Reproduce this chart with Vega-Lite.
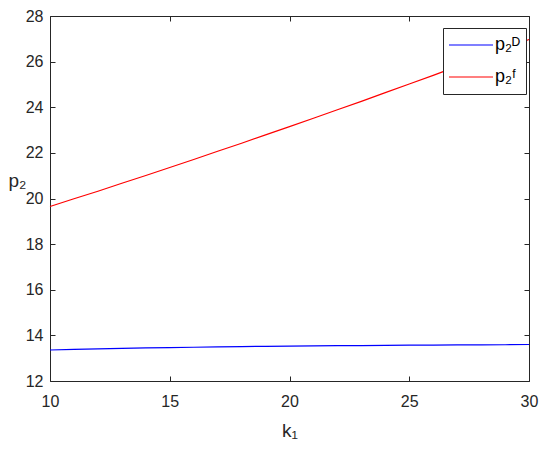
{
  "$schema": "https://vega.github.io/schema/vega-lite/v6.json",
  "width": 479,
  "height": 365,
  "autosize": "none",
  "padding": {"left": 50, "top": 16, "right": 21, "bottom": 71},
  "background": "white",
  "config": {
    "view": {"stroke": null},
    "font": "Liberation Sans",
    "axis": {
      "domainColor": "#262626",
      "domainWidth": 1,
      "tickColor": "#262626",
      "tickWidth": 1,
      "tickSize": -5,
      "labelColor": "#262626",
      "titleColor": "#262626",
      "grid": false,
      "labelFlush": false,
      "labelFont": "Liberation Sans",
      "labelFontSize": 16,
      "titleFont": "Liberation Sans",
      "titleFontWeight": "normal",
      "titleFontSize": 19
    }
  },
  "data": {
    "values": [
      {"k": 10, "p": 13.36, "s": "D"}, {"k": 11, "p": 13.385, "s": "D"}, {"k": 12, "p": 13.41, "s": "D"},
      {"k": 13, "p": 13.43, "s": "D"}, {"k": 14, "p": 13.45, "s": "D"}, {"k": 15, "p": 13.465, "s": "D"},
      {"k": 16, "p": 13.48, "s": "D"}, {"k": 17, "p": 13.495, "s": "D"}, {"k": 18, "p": 13.51, "s": "D"},
      {"k": 19, "p": 13.52, "s": "D"}, {"k": 20, "p": 13.53, "s": "D"}, {"k": 21, "p": 13.54, "s": "D"},
      {"k": 22, "p": 13.55, "s": "D"}, {"k": 23, "p": 13.555, "s": "D"}, {"k": 24, "p": 13.565, "s": "D"},
      {"k": 25, "p": 13.57, "s": "D"}, {"k": 26, "p": 13.575, "s": "D"}, {"k": 27, "p": 13.58, "s": "D"},
      {"k": 28, "p": 13.585, "s": "D"}, {"k": 29, "p": 13.59, "s": "D"}, {"k": 30, "p": 13.6, "s": "D"},
      {"k": 10, "p": 19.65, "s": "F"}, {"k": 11, "p": 19.99, "s": "F"}, {"k": 12, "p": 20.32, "s": "F"},
      {"k": 13, "p": 20.67, "s": "F"}, {"k": 14, "p": 21.01, "s": "F"}, {"k": 15, "p": 21.36, "s": "F"},
      {"k": 16, "p": 21.71, "s": "F"}, {"k": 17, "p": 22.07, "s": "F"}, {"k": 18, "p": 22.42, "s": "F"},
      {"k": 19, "p": 22.79, "s": "F"}, {"k": 20, "p": 23.15, "s": "F"}, {"k": 21, "p": 23.52, "s": "F"},
      {"k": 22, "p": 23.89, "s": "F"}, {"k": 23, "p": 24.26, "s": "F"}, {"k": 24, "p": 24.64, "s": "F"},
      {"k": 25, "p": 25.02, "s": "F"}, {"k": 26, "p": 25.4, "s": "F"}, {"k": 27, "p": 25.79, "s": "F"},
      {"k": 28, "p": 26.18, "s": "F"}, {"k": 29, "p": 26.57, "s": "F"}, {"k": 30, "p": 26.97, "s": "F"}
    ]
  },
  "layer": [
    {
      "mark": {"type": "line", "strokeWidth": 1.2},
      "encoding": {
        "x": {
          "field": "k", "type": "quantitative",
          "scale": {"domain": [10, 30], "nice": false, "zero": false},
          "axis": {"orient": "bottom", "values": [10, 15, 20, 25, 30], "title": "k₁", "labelPadding": 17, "titleY": 55, "titleBaseline": "alphabetic"}
        },
        "y": {
          "field": "p", "type": "quantitative",
          "scale": {"domain": [12, 28], "nice": false, "zero": false},
          "axis": {"orient": "left", "values": [12, 14, 16, 18, 20, 22, 24, 26, 28], "title": "p₂", "titleAngle": 0, "titleAlign": "left", "titleBaseline": "alphabetic", "titleX": -42, "titleY": 170, "labelPadding": 12}
        },
        "color": {
          "field": "s", "type": "nominal",
          "scale": {"domain": ["D", "F"], "range": ["#0000ff", "#ff0000"]},
          "legend": {
            "orient": "none", "legendX": 393, "legendY": 12, "title": null,
            "fillColor": "white", "strokeColor": "#262626", "padding": 5,
            "symbolType": "stroke", "symbolSize": 1936, "symbolStrokeWidth": 1.2,
            "clipHeight": 24, "rowPadding": 8,
            "labelFontSize": 18, "labelFont": "Liberation Sans", "labelColor": "#000000", "labelOffset": 1,
            "labelExpr": "datum.value == 'D' ? 'p₂ᴰ' : 'p₂ᶠ'"
          }
        }
      }
    },
    {
      "mark": {"type": "line", "strokeOpacity": 0},
      "encoding": {
        "x": {"field": "k", "type": "quantitative", "axis": {"orient": "top", "labels": false, "title": null, "values": [10, 15, 20, 25, 30]}},
        "y": {"field": "p", "type": "quantitative", "axis": {"orient": "right", "labels": false, "title": null, "values": [12, 14, 16, 18, 20, 22, 24, 26, 28]}},
        "detail": {"field": "s"}
      }
    }
  ],
  "resolve": {"axis": {"x": "independent", "y": "independent"}}
}
